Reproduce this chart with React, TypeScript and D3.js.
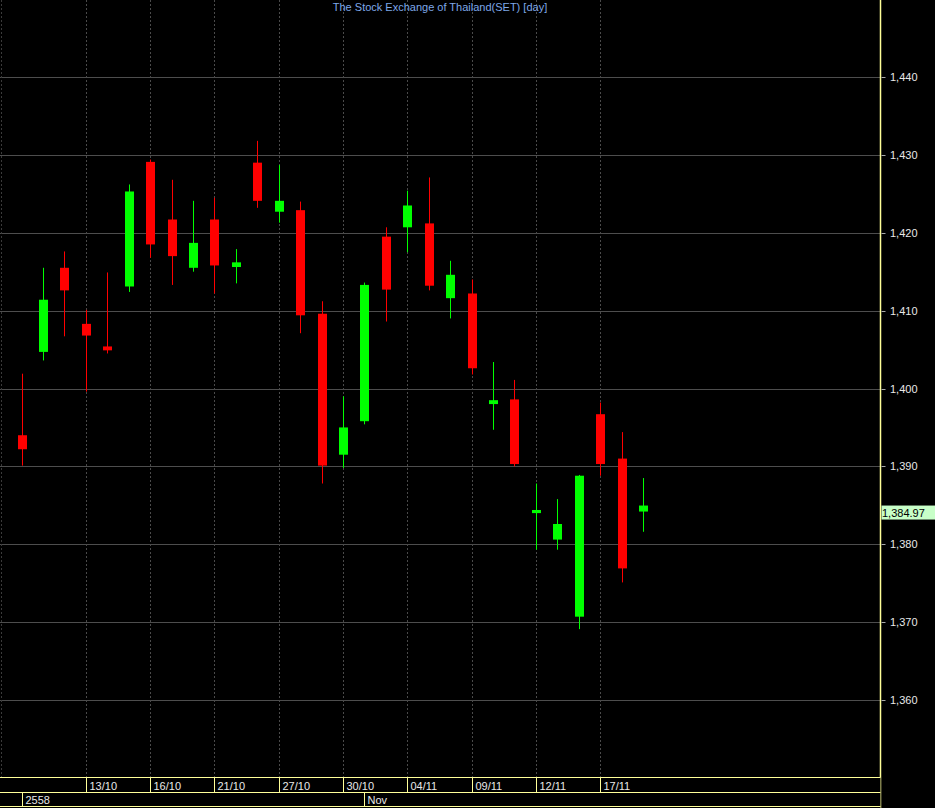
import React from "react";
import * as d3 from "d3";

const dates = ["08/10","09/10","12/10","13/10","14/10","15/10","16/10","19/10","20/10","21/10","22/10","26/10","27/10","28/10","29/10","30/10","02/11","03/11","04/11","05/11","06/11","09/11","10/11","11/11","12/11","13/11","16/11","17/11","18/11","19/11"];
const opens = [1394.0,1404.7,1415.5,1408.3,1405.4,1413.1,1429.1,1421.7,1415.5,1421.7,1415.6,1429.0,1422.7,1422.9,1409.6,1391.5,1395.8,1419.5,1420.7,1421.2,1411.6,1412.2,1398.0,1398.6,1384.0,1380.6,1370.7,1396.7,1391.0,1384.2];
const highs = [1401.9,1415.5,1417.6,1410.1,1414.9,1426.2,1429.4,1426.8,1424.1,1424.5,1417.9,1431.8,1428.7,1424.0,1411.2,1399.0,1413.6,1420.7,1425.4,1427.1,1416.4,1414.0,1403.4,1401.1,1387.8,1385.8,1388.9,1398.2,1394.4,1388.5];
const lows = [1390.1,1403.6,1406.7,1399.6,1404.5,1412.4,1416.8,1413.3,1415.0,1412.2,1413.5,1423.2,1421.3,1407.1,1387.8,1389.8,1395.4,1408.6,1417.5,1412.6,1409.0,1401.8,1394.7,1390.0,1379.3,1379.3,1369.1,1388.8,1375.1,1381.6];
const closes = [1392.2,1411.4,1412.6,1406.8,1404.9,1425.3,1418.5,1417.0,1418.7,1415.8,1416.2,1424.1,1424.1,1409.4,1390.1,1395.0,1413.3,1412.7,1423.5,1413.2,1414.6,1402.6,1398.5,1390.3,1384.4,1382.6,1388.8,1390.3,1376.9,1384.97];
const yTicks = [1360,1370,1380,1390,1400,1410,1420,1430,1440];
const dateTickIdx = [3,6,9,12,15,18,21,24,27];
const yearLabels = [{ idx: 0, label: "2558" }, { idx: 16, label: "Nov" }];
const lastPrice = 1384.97;
const title = "The Stock Exchange of Thailand(SET) [day]";

export default function App() {
  const W = 935, H = 808;
  const axisX = 880.5;
  const x = d3.scaleLinear().domain([0, 29]).range([21.5, 643]);
  const y = d3.scaleLinear().domain([1360, 1440]).range([700, 77]);
  const fmt = d3.format(",");
  const fmt2 = d3.format(",.2f");
  const yellow = "#ffff99";
  const bodyW = 9;
  const row1 = 777.5, row2 = 792.5, row3 = 806.5;
  const font = "'Liberation Sans', Arial, sans-serif";

  return (
    <svg width={W} height={H} style={{ position: "fixed", left: 0, top: 0, background: "#000" }}>
      <rect x={0} y={0} width={W} height={H} fill="#000" />
      {/* horizontal grid */}
      {yTicks.map((t) => (
        <line key={"h" + t} x1={0} x2={axisX} y1={Math.round(y(t)) + 0.5} y2={Math.round(y(t)) + 0.5} stroke="#4d4d4d" strokeWidth={1} />
      ))}
      {/* vertical dashed grid */}
      <line x1={1.5} x2={1.5} y1={0} y2={row1} stroke="#3a3a3a" strokeDasharray="2,2" />
      {dateTickIdx.map((i) => (
        <line key={"v" + i} x1={Math.round(x(i)) + 0.5} x2={Math.round(x(i)) + 0.5} y1={0} y2={row1} stroke="#4a4a4a" strokeDasharray="2,2" />
      ))}
      {/* candles */}
      {dates.map((d, i) => {
        const up = closes[i] >= opens[i];
        const col = up ? "#00ff00" : "#ff0000";
        const cx = Math.round(x(i)) + 0.5;
        const top = y(Math.max(opens[i], closes[i]));
        const bot = y(Math.min(opens[i], closes[i]));
        const h = Math.max(bot - top, 3);
        return (
          <g key={d}>
            <line x1={cx} x2={cx} y1={y(highs[i])} y2={y(lows[i])} stroke={col} strokeWidth={1} />
            <rect x={cx - bodyW / 2} y={top} width={bodyW} height={h} fill={col} />
          </g>
        );
      })}
      {/* title */}
      <text x={440} y={11} textAnchor="middle" fontFamily={font} fontSize={11} fill="#7ea8e8">{title}</text>
      {/* right axis */}
      <line x1={axisX} x2={axisX} y1={0} y2={H} stroke={yellow} strokeWidth={1.5} />
      {yTicks.map((t) => (
        <g key={"t" + t}>
          <line x1={axisX + 1} x2={axisX + 5} y1={Math.round(y(t)) + 0.5} y2={Math.round(y(t)) + 0.5} stroke="#aaa" />
          <text x={890} y={y(t) + 4} fontFamily={font} fontSize={11} fill="#e8e8e8">{fmt(t)}</text>
        </g>
      ))}
      {/* last price */}
      <rect x={axisX + 1} y={y(lastPrice)} width={W - axisX - 1} height={14} fill="#c8ffc8" />
      <text x={882} y={y(lastPrice) + 11} fontFamily={font} fontSize={11} fill="#000">{fmt2(lastPrice)}</text>
      {/* bottom date axis */}
      <rect x={0} y={row1} width={axisX} height={H - row1} fill="#000" />
      <line x1={0} x2={axisX} y1={row1} y2={row1} stroke={yellow} />
      <line x1={0} x2={axisX} y1={row2} y2={row2} stroke={yellow} />
      <line x1={0} x2={axisX} y1={row3} y2={row3} stroke={yellow} />
      {dateTickIdx.map((i) => {
        const sx = Math.round(x(i)) + 0.5;
        return (
          <g key={"d" + i}>
            <line x1={sx} x2={sx} y1={row1} y2={row2} stroke={yellow} />
            <text x={sx + 3} y={row2 - 3} fontFamily={font} fontSize={11} fill="#e8e8e8">{dates[i]}</text>
          </g>
        );
      })}
      {yearLabels.map((yl) => {
        const sx = Math.round(x(yl.idx)) + 0.5;
        return (
          <g key={"y" + yl.label}>
            <line x1={sx} x2={sx} y1={row2} y2={row3} stroke={yellow} />
            <text x={sx + 3} y={row3 - 3} fontFamily={font} fontSize={11} fill="#e8e8e8">{yl.label}</text>
          </g>
        );
      })}
    </svg>
  );
}
